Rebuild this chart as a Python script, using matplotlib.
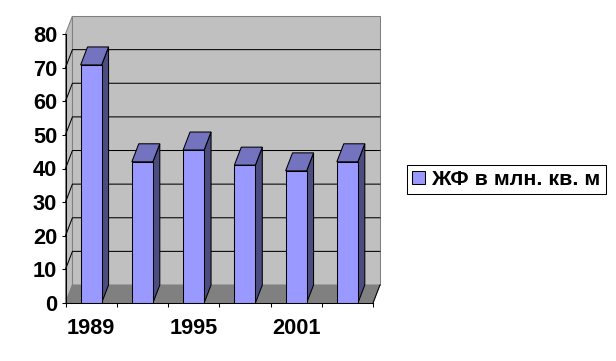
import matplotlib
matplotlib.use('Agg')
import matplotlib.pyplot as plt
from matplotlib.patches import Patch, Polygon

plt.rcParams['font.family'] = ['Liberation Sans', 'DejaVu Sans']
plt.rcParams['font.weight'] = 'bold'

# data
years = ['1989', '', '1995', '', '2001', '']
values = [70.8, 42, 45.5, 41, 39.3, 42]
y_ticks = [0, 10, 20, 30, 40, 50, 60, 70, 80]
series_name = 'ЖФ в млн. кв. м'

# colours
front = '#9999FF'
top = '#7373BF'
side = '#4C4C80'
wall = '#C0C0C0'
floor = '#808080'

# depth of the fake 3d box in data units
dx = 0.135
dy = 5.35
bar_w = 0.41
line = 0.75

fig = plt.figure(figsize=(6.16, 3.61), dpi=100)
ax = fig.add_axes([65.5 / 616, 58 / 361, 307.5 / 616, 269 / 361])
ax.set_xlim(-0.5, 5.5)
ax.set_ylim(0, 80)
ax.patch.set_visible(False)


def poly(points, color, edge=None, z=1):
    ax.add_patch(Polygon(points, closed=True, facecolor=color, edgecolor=edge or color,
                         linewidth=line, zorder=z, clip_on=False))


x0, x1 = ax.get_xlim()
y0, y1 = ax.get_ylim()

# back wall, left wall and floor
poly([(x0 + dx, y0 + dy), (x1 + dx, y0 + dy), (x1 + dx, y1 + dy), (x0 + dx, y1 + dy)], wall, floor)
poly([(x0, y0), (x0 + dx, y0 + dy), (x0 + dx, y1 + dy), (x0, y1)], wall, floor)
poly([(x0, y0), (x1, y0), (x1 + dx, y0 + dy), (x0 + dx, y0 + dy)], floor)

# grid lines on the walls
for t in y_ticks[1:-1]:
    ax.plot([x0, x0 + dx, x1 + dx], [t, t + dy, t + dy], color='black', lw=line,
            zorder=2, clip_on=False)
ax.plot([x1, x1 + dx], [y0, y0 + dy], color='black', lw=line, zorder=2, clip_on=False)

# bars
xs = list(range(len(values)))
for x, v in zip(xs, values):
    l = x - bar_w / 2
    r = x + bar_w / 2
    poly([(r, 0), (r + dx, dy), (r + dx, v + dy), (r, v)], side, 'black', 3 + x)
    poly([(l, v), (r, v), (r + dx, v + dy), (l + dx, v + dy)], top, 'black', 3 + x)
    ax.bar(x, v, width=bar_w, color=front, edgecolor='black', linewidth=line, zorder=3 + x + 0.5)

# axes
ax.spines['top'].set_visible(False)
ax.spines['right'].set_visible(False)
ax.spines['left'].set_zorder(20)
ax.spines['bottom'].set_zorder(20)
ax.spines['left'].set_linewidth(line)
ax.spines['bottom'].set_linewidth(line)
ax.set_yticks(y_ticks)
ax.set_xticks([i - 0.5 for i in range(len(years) + 1)])
ax.set_xticklabels([])
ax.set_xticks(xs, minor=True)
ax.set_xticklabels(years, minor=True)
ax.tick_params(axis='x', which='minor', length=0, pad=11, labelsize=15.7)
ax.tick_params(axis='x', which='major', length=3, width=line)
ax.tick_params(axis='y', length=3, width=line, pad=3, labelsize=15.7)

# legend
handle = Patch(facecolor=front, edgecolor='black', linewidth=line)
leg = fig.legend([handle], [series_name], loc='center left',
                 bbox_to_anchor=(407 / 616, 1 - 179.5 / 361), fontsize=15.4, frameon=True,
                 fancybox=False, edgecolor='black', framealpha=1, handlelength=0.58,
                 handleheight=0.6, handletextpad=0.3, borderaxespad=0, borderpad=0.25)
leg.get_frame().set_linewidth(line)

fig.savefig('out.png', dpi=100)
